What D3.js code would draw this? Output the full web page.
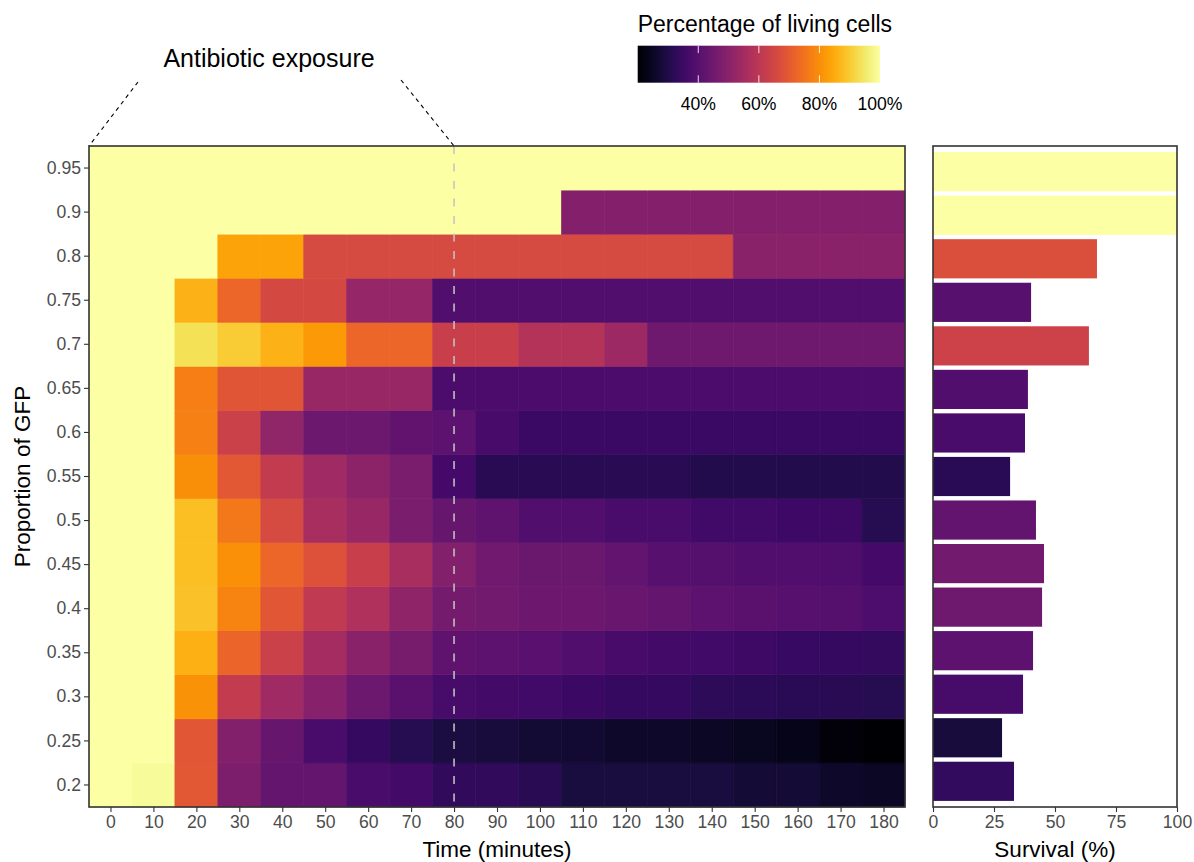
<!DOCTYPE html>
<html>
<head>
<meta charset="utf-8">
<script src="https://cdn.jsdelivr.net/npm/d3@7"></script>
<style>
  body { margin: 0; background: #ffffff; }
  svg text { font-family: "Liberation Sans", Arial, Helvetica, sans-serif; }
</style>
</head>
<body>
<svg id="chart" width="1194" height="862"></svg>
<script>
// Sampling times (minutes) and GFP proportion groups
const times = [0, 10, 20, 30, 40, 50, 60, 70, 80, 90, 100, 110, 120, 130, 140, 150, 160, 170, 180];
const gfpLevels = ["0.2", "0.25", "0.3", "0.35", "0.4", "0.45", "0.5", "0.55", "0.6", "0.65", "0.7", "0.75", "0.8", "0.9", "0.95"];

// Percentage of living cells, one array per GFP group, one value per time point
const living_020 = [100, 99, 69.5, 47.5, 42.5, 42.5, 37.5, 36.5, 33, 33, 31.5, 28.5, 28.5, 28.5, 28.5, 27.5, 27.5, 26, 25];
const living_025 = [100, 100, 69.3, 48.6, 43.2, 37.8, 33.8, 31, 28.8, 28.3, 27.3, 27, 26.2, 26, 25, 24.6, 23.5, 21.5, 20];
const living_030 = [100, 100, 80.9, 61.8, 54.6, 49.6, 44.3, 40.8, 37, 36.5, 36.2, 34.8, 34, 33.8, 32.3, 32, 31.8, 31.3, 31];
const living_035 = [100, 100, 85.8, 72.3, 63.5, 55.4, 50.2, 46.4, 41.6, 41.2, 40.5, 39, 37.4, 36.5, 36, 35, 34.3, 33.8, 33.6];
const living_040 = [100, 100, 88.5, 78.2, 69.3, 61.2, 57.6, 51.2, 46, 45.5, 44.5, 44.5, 43.5, 42.7, 41.2, 40.8, 40, 39.7, 38.2];
const living_045 = [100, 100, 88, 80.4, 72.8, 68, 63, 56, 48.6, 45, 44, 44, 42.4, 40.3, 39.8, 39.2, 39, 38.6, 36.6];
const living_050 = [100, 100, 88, 76, 66, 56, 53, 47, 43.2, 41.6, 39.2, 39, 37.5, 37.5, 36, 36, 35.4, 35, 31];
const living_055 = [100, 100, 80, 69.6, 61.6, 54.5, 50.6, 47, 36.8, 31.5, 31.5, 31.5, 31.5, 31.5, 30.5, 30.5, 30.5, 30.5, 30.5];
const living_060 = [100, 100, 77.5, 63.5, 51.4, 44.2, 44.2, 42, 41, 37.2, 34.6, 34.6, 34.6, 34.6, 34.6, 34.6, 34.6, 34.6, 34.6];
const living_065 = [100, 100, 77.3, 69, 69, 53, 53, 53, 38, 38, 38, 38, 38, 38, 38, 38, 38, 38, 38];
const living_070 = [100, 100, 93.5, 90, 86, 82, 72.5, 72.5, 63, 63, 58.6, 58.6, 53.9, 44.8, 44.8, 44.8, 44.8, 44.8, 44.8];
const living_075 = [100, 100, 86.2, 72.8, 65.8, 65.8, 52.4, 52.4, 39.2, 39.2, 39.2, 39.2, 39.2, 39.2, 39.2, 39.2, 39.2, 39.2, 39.2];
const living_080 = [100, 100, 100, 83.5, 83.5, 66, 66, 66, 66, 66, 66, 66, 66, 66, 66, 50, 50, 50, 50];
const living_090 = [100, 100, 100, 100, 100, 100, 100, 100, 100, 100, 100, 49, 49, 49, 49, 49, 49, 49, 49];
const living_095 = [100, 100, 100, 100, 100, 100, 100, 100, 100, 100, 100, 100, 100, 100, 100, 100, 100, 100, 100];

// Overall survival per GFP group (%)
const survivalPct = [33.2, 28.3, 36.9, 41, 44.7, 45.5, 42.2, 31.6, 37.7, 38.9, 63.9, 40.2, 67.2, 100, 100];

// Tick labels
const legendTicks = [40, 60, 80, 100];
const survivalTicks = [0, 25, 50, 75, 100];
const exposureStart = -5;   // left edge of the first sampling window
const exposureEnd = 80;     // end of antibiotic exposure (minutes)

const livingRows = [living_020, living_025, living_030, living_035, living_040, living_045, living_050,
  living_055, living_060, living_065, living_070, living_075, living_080, living_090, living_095];

const cells = [];
gfpLevels.forEach((g, i) => {
  times.forEach((t, j) => cells.push({ gfp: g, time: t, value: livingRows[i][j] }));
});

const svg = d3.select("#chart");
const inkDark = "#333333";
const tickText = "#4d4d4d";

// ---------- Heatmap panel ----------
const hm = { left: 89, right: 905, top: 146, bottom: 807 };
const x = d3.scaleLinear().domain([-5, 185]).range([hm.left, hm.right]);
const y = d3.scaleBand().domain(gfpLevels).range([hm.bottom, hm.top]);
const color = d3.scaleSequential(d3.interpolateInferno).domain([20, 100]);

svg.append("g")
  .selectAll("rect")
  .data(cells)
  .join("rect")
  .attr("x", d => x(d.time - 5))
  .attr("width", d => x(d.time + 5) - x(d.time - 5))
  .attr("y", d => y(d.gfp))
  .attr("height", y.bandwidth())
  .attr("fill", d => color(d.value))
  .attr("stroke", d => color(d.value))
  .attr("stroke-width", 0.6);

// end of exposure marker
svg.append("line")
  .attr("x1", x(exposureEnd)).attr("x2", x(exposureEnd))
  .attr("y1", hm.top).attr("y2", hm.bottom)
  .attr("stroke", "#c4c4c4")
  .attr("stroke-opacity", 0.9)
  .attr("stroke-width", 1.7)
  .attr("stroke-dasharray", "8,9.5");

svg.append("rect")
  .attr("x", hm.left).attr("y", hm.top)
  .attr("width", hm.right - hm.left).attr("height", hm.bottom - hm.top)
  .attr("fill", "none").attr("stroke", inkDark).attr("stroke-width", 1.6);

function styleAxis(g) {
  g.select(".domain").remove();
  g.selectAll(".tick line").attr("stroke", inkDark).attr("stroke-width", 1.1);
  g.selectAll(".tick text").attr("fill", tickText).attr("font-size", "17.6px")
    .attr("font-family", "\"Liberation Sans\", Arial, Helvetica, sans-serif");
}

svg.append("g")
  .attr("transform", `translate(0,${hm.bottom})`)
  .call(d3.axisBottom(x).tickValues(times).tickSize(5).tickPadding(4).tickFormat(d3.format("d")))
  .call(styleAxis);

svg.append("g")
  .attr("transform", `translate(${hm.left},0)`)
  .call(d3.axisLeft(y).tickSize(5).tickPadding(3))
  .call(styleAxis);

// ---------- Survival panel ----------
const sp = { left: 933, right: 1177, top: 146, bottom: 807 };
const xs = d3.scaleLinear().domain([0, 100]).range([sp.left, sp.right]);
const ys = d3.scaleBand().domain(gfpLevels).range([sp.bottom, sp.top]).paddingInner(0.1).paddingOuter(0.14);

svg.append("g")
  .selectAll("rect")
  .data(gfpLevels.map((g, i) => ({ gfp: g, value: survivalPct[i] })))
  .join("rect")
  .attr("x", xs(0))
  .attr("width", d => xs(d.value) - xs(0))
  .attr("y", d => ys(d.gfp))
  .attr("height", ys.bandwidth())
  .attr("fill", d => color(d.value));

svg.append("rect")
  .attr("x", sp.left).attr("y", sp.top)
  .attr("width", sp.right - sp.left).attr("height", sp.bottom - sp.top)
  .attr("fill", "none").attr("stroke", inkDark).attr("stroke-width", 1.6);

svg.append("g")
  .attr("transform", `translate(0,${sp.bottom})`)
  .call(d3.axisBottom(xs).tickValues(survivalTicks).tickSize(5).tickPadding(4))
  .call(styleAxis);

// ---------- Axis titles ----------
const titleFont = "22.5px";
svg.append("text")
  .attr("x", (hm.left + hm.right) / 2).attr("y", 857)
  .attr("text-anchor", "middle").attr("font-size", titleFont).attr("fill", "#000")
  .text("Time (minutes)");

svg.append("text")
  .attr("x", (sp.left + sp.right) / 2).attr("y", 857)
  .attr("text-anchor", "middle").attr("font-size", titleFont).attr("fill", "#000")
  .text("Survival (%)");

svg.append("text")
  .attr("transform", `translate(30,${(hm.top + hm.bottom) / 2}) rotate(-90)`)
  .attr("text-anchor", "middle").attr("font-size", titleFont).attr("fill", "#000")
  .text("Proportion of GFP");

// ---------- Exposure annotation ----------
svg.append("text")
  .attr("x", 269).attr("y", 67)
  .attr("text-anchor", "middle").attr("font-size", "25px").attr("fill", "#000")
  .text("Antibiotic exposure");

svg.append("line")
  .attr("x1", 138).attr("y1", 82)
  .attr("x2", x(exposureStart)).attr("y2", hm.top)
  .attr("stroke", "#000").attr("stroke-width", 1.1).attr("stroke-dasharray", "4,4");

svg.append("line")
  .attr("x1", 401).attr("y1", 80)
  .attr("x2", x(exposureEnd)).attr("y2", hm.top)
  .attr("stroke", "#000").attr("stroke-width", 1.1).attr("stroke-dasharray", "4,4");

// ---------- Colour legend ----------
const lg = { left: 637.7, right: 880, top: 45.7, bottom: 82.7 };
const lx = d3.scaleLinear().domain([20, 100]).range([lg.left, lg.right]);

const grad = svg.append("defs").append("linearGradient")
  .attr("id", "livingGrad").attr("x1", "0%").attr("x2", "100%").attr("y1", "0%").attr("y2", "0%");
d3.range(0, 1.0001, 0.05).forEach(t => {
  grad.append("stop").attr("offset", `${t * 100}%`).attr("stop-color", d3.interpolateInferno(t));
});

svg.append("rect")
  .attr("x", lg.left).attr("y", lg.top)
  .attr("width", lg.right - lg.left).attr("height", lg.bottom - lg.top)
  .attr("fill", "url(#livingGrad)");

const tickLen = (lg.bottom - lg.top) / 5;
legendTicks.filter(v => v < 100).forEach(v => {
  svg.append("line").attr("x1", lx(v)).attr("x2", lx(v)).attr("y1", lg.top).attr("y2", lg.top + tickLen)
    .attr("stroke", "#ffffff").attr("stroke-opacity", 0.85).attr("stroke-width", 1);
  svg.append("line").attr("x1", lx(v)).attr("x2", lx(v)).attr("y1", lg.bottom - tickLen).attr("y2", lg.bottom)
    .attr("stroke", "#ffffff").attr("stroke-opacity", 0.85).attr("stroke-width", 1);
});

svg.append("g")
  .selectAll("text")
  .data(legendTicks)
  .join("text")
  .attr("x", d => lx(d)).attr("y", 110)
  .attr("text-anchor", "middle").attr("font-size", "17.6px").attr("fill", "#000")
  .text(d => `${d}%`);

svg.append("text")
  .attr("x", lg.left).attr("y", 32)
  .attr("font-size", "23px").attr("fill", "#000")
  .text("Percentage of living cells");
</script>
</body>
</html>
